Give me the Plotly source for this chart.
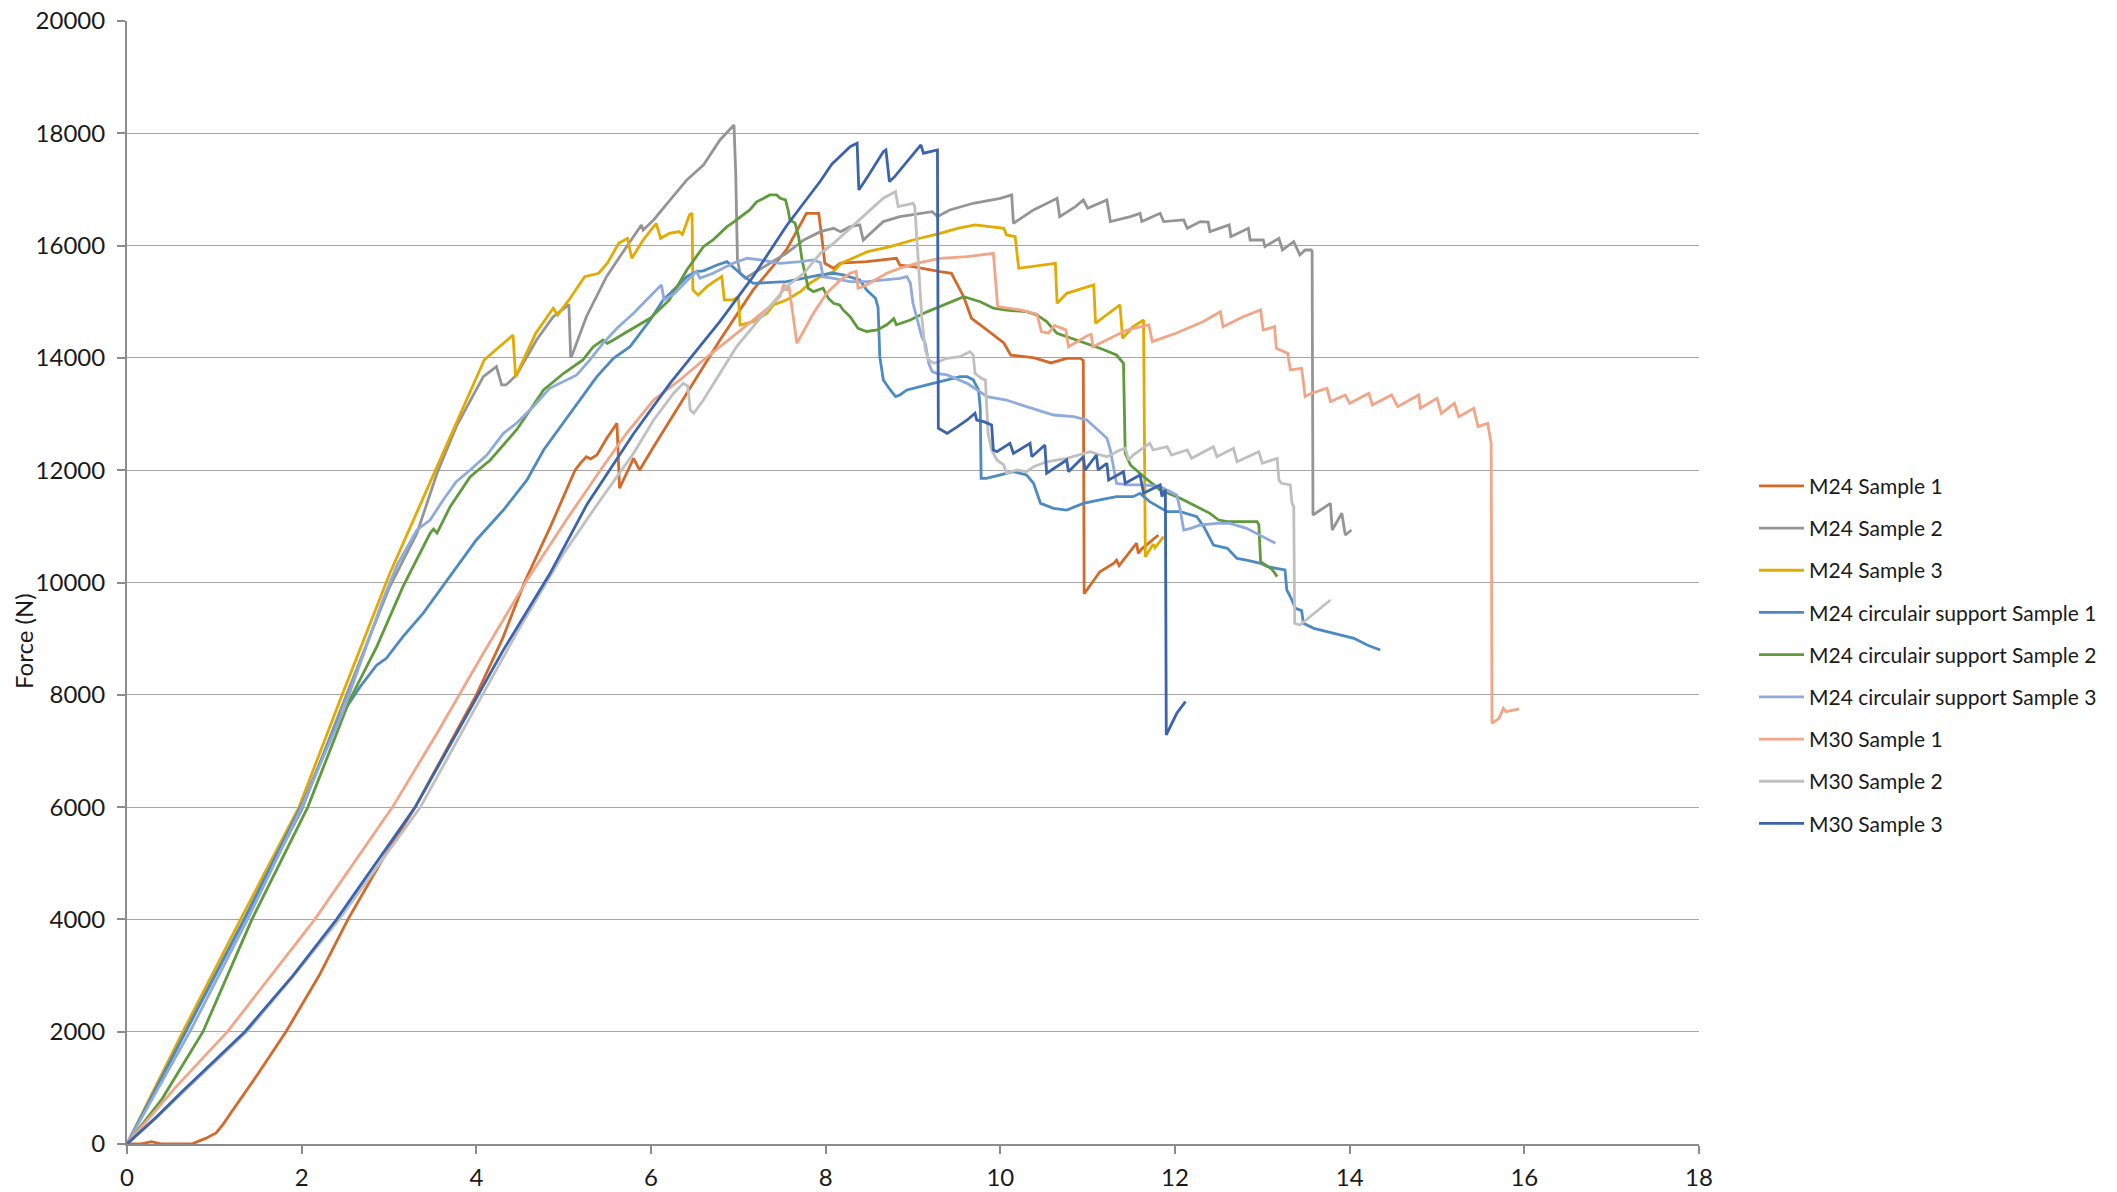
import plotly.graph_objects as go

# Displacement (mm) / force (N) curves per bolt sample
m24_s1_x = [0, 0.15, 0.28, 0.32, 0.40, 0.74, 0.90, 1.02, 1.10, 1.20, 1.50, 1.82, 2.20, 2.53, 2.90, 3.30, 3.65, 4.00, 4.30, 4.55, 4.85, 5.13, 5.19, 5.26, 5.31, 5.38, 5.49, 5.61, 5.64, 5.72, 5.80, 5.87, 6.03, 6.41, 6.79, 7.17, 7.55, 7.78, 7.92, 7.96, 7.99, 8.09, 8.17, 8.47, 8.81, 8.85, 9.00, 9.31, 9.44, 9.58, 9.67, 9.85, 10.04, 10.12, 10.39, 10.58, 10.76, 10.92, 10.95, 10.96, 11.14, 11.30, 11.33, 11.36, 11.56, 11.58, 11.62, 11.81]
m24_s1_y = [0, 0, 40, 30, 0, 0, 100, 196, 350, 580, 1250, 2000, 3000, 4000, 5000, 6000, 7000, 8000, 9000, 10000, 11000, 12000, 12123, 12240, 12200, 12271, 12560, 12835, 11678, 11950, 12212, 12004, 12419, 13369, 14319, 15210, 15922, 16575, 16575, 16100, 15685, 15596, 15690, 15713, 15773, 15650, 15625, 15535, 15507, 15090, 14705, 14496, 14265, 14050, 14000, 13910, 13993, 13993, 13950, 9800, 10192, 10342, 10400, 10300, 10700, 10520, 10600, 10846]

m24_s2_x = [0, 0.66, 1.33, 2.0, 2.45, 3.0, 3.32, 3.55, 3.77, 4.08, 4.23, 4.29, 4.34, 4.46, 4.69, 4.88, 5.06, 5.08, 5.09, 5.26, 5.49, 5.72, 5.89, 5.91, 6.03, 6.22, 6.41, 6.60, 6.79, 6.95, 6.97, 6.99, 7.02, 7.08, 7.17, 7.36, 7.55, 7.75, 7.94, 8.09, 8.17, 8.28, 8.39, 8.43, 8.66, 8.85, 9.22, 9.28, 9.42, 9.69, 10.0, 10.13, 10.15, 10.38, 10.65, 10.68, 10.86, 10.95, 11.0, 11.22, 11.26, 11.49, 11.60, 11.62, 11.83, 11.87, 12.10, 12.14, 12.29, 12.38, 12.40, 12.62, 12.64, 12.84, 12.86, 13.01, 13.03, 13.19, 13.23, 13.36, 13.43, 13.49, 13.56, 13.57, 13.58, 13.78, 13.80, 13.91, 13.95, 14.02]
m24_s2_y = [0, 1950, 3950, 5950, 7750, 9900, 10876, 11945, 12775, 13666, 13844, 13518, 13518, 13696, 14319, 14734, 14950, 14022, 14022, 14734, 15447, 15981, 16368, 16279, 16457, 16813, 17169, 17436, 17881, 18148, 17300, 15744, 15507, 15418, 15507, 15685, 15863, 16100, 16248, 16308, 16248, 16337, 16368, 16100, 16427, 16516, 16605, 16516, 16635, 16754, 16843, 16902, 16397, 16635, 16843, 16516, 16695, 16813, 16665, 16813, 16427, 16516, 16575, 16427, 16575, 16427, 16457, 16308, 16427, 16420, 16248, 16368, 16159, 16308, 16100, 16100, 15981, 16130, 15922, 16070, 15833, 15922, 15922, 15900, 11202, 11410, 10935, 11232, 10846, 10935]

m24_s3_x = [0, 0.64, 1.30, 1.97, 2.44, 3.01, 3.55, 3.85, 4.09, 4.22, 4.35, 4.42, 4.45, 4.68, 4.88, 4.93, 5.06, 5.24, 5.40, 5.50, 5.63, 5.73, 5.78, 5.91, 6.06, 6.11, 6.21, 6.32, 6.36, 6.44, 6.47, 6.48, 6.54, 6.64, 6.72, 6.81, 6.84, 6.94, 7.0, 7.02, 7.17, 7.33, 7.40, 7.55, 7.71, 7.82, 7.94, 8.09, 8.18, 8.48, 8.74, 9.0, 9.31, 9.51, 9.71, 9.92, 10.04, 10.07, 10.17, 10.21, 10.39, 10.63, 10.65, 10.76, 11.07, 11.09, 11.24, 11.37, 11.40, 11.52, 11.64, 11.66, 11.75, 11.77, 11.87]
m24_s3_y = [0, 2000, 4000, 6000, 7908, 10164, 12063, 13131, 13963, 14141, 14319, 14408, 13666, 14438, 14883, 14764, 15032, 15447, 15507, 15685, 16041, 16130, 15774, 16100, 16397, 16130, 16219, 16250, 16200, 16546, 16575, 15210, 15120, 15269, 15360, 15447, 15032, 15032, 15090, 14586, 14645, 14795, 14943, 15032, 15180, 15330, 15447, 15540, 15685, 15892, 15981, 16100, 16219, 16308, 16368, 16338, 16308, 16189, 16159, 15596, 15630, 15685, 14973, 15150, 15299, 14616, 14795, 14943, 14349, 14556, 14675, 10460, 10680, 10620, 10816]

m24_cs1_x = [0, 0.67, 1.34, 2.02, 2.44, 2.67, 2.86, 2.97, 3.16, 3.39, 3.70, 4.0, 4.31, 4.58, 4.77, 5.07, 5.38, 5.57, 5.76, 5.99, 6.14, 6.22, 6.41, 6.52, 6.60, 6.75, 6.87, 7.02, 7.17, 7.55, 7.94, 8.09, 8.20, 8.39, 8.47, 8.57, 8.60, 8.62, 8.66, 8.74, 8.80, 8.85, 8.93, 9.16, 9.39, 9.54, 9.62, 9.69, 9.75, 9.77, 9.78, 9.84, 10.0, 10.15, 10.30, 10.38, 10.46, 10.61, 10.76, 10.95, 11.14, 11.33, 11.52, 11.60, 11.71, 11.81, 11.91, 12.06, 12.25, 12.33, 12.44, 12.60, 12.71, 12.82, 12.98, 13.06, 13.26, 13.28, 13.32, 13.38, 13.45, 13.47, 13.59, 13.74, 13.89, 14.05, 14.20, 14.35]
m24_cs1_y = [0, 2000, 4000, 6100, 7610, 8145, 8531, 8650, 9035, 9451, 10104, 10757, 11291, 11826, 12360, 13000, 13666, 13993, 14200, 14675, 15032, 15150, 15447, 15536, 15550, 15650, 15714, 15507, 15329, 15358, 15477, 15507, 15480, 15388, 15210, 15062, 14900, 14022, 13607, 13429, 13310, 13340, 13429, 13518, 13607, 13666, 13666, 13610, 13429, 13100, 11856, 11856, 11915, 11974, 11915, 11767, 11410, 11321, 11290, 11410, 11470, 11529, 11529, 11588, 11440, 11350, 11261, 11261, 11172, 10994, 10668, 10609, 10430, 10400, 10342, 10280, 10223, 9867, 9750, 9540, 9500, 9273, 9184, 9124, 9065, 9006, 8887, 8798]

m24_cs2_x = [0, 0.4, 0.87, 1.43, 2.07, 2.55, 2.86, 3.16, 3.47, 3.51, 3.55, 3.70, 3.93, 4.16, 4.46, 4.77, 5.0, 5.22, 5.34, 5.45, 5.50, 5.55, 5.76, 5.99, 6.21, 6.41, 6.60, 6.71, 6.87, 6.93, 7.13, 7.21, 7.29, 7.36, 7.44, 7.48, 7.54, 7.57, 7.59, 7.65, 7.69, 7.73, 7.78, 7.80, 7.86, 7.97, 8.03, 8.09, 8.16, 8.20, 8.28, 8.37, 8.47, 8.59, 8.70, 8.78, 8.81, 8.97, 9.16, 9.35, 9.58, 9.77, 9.92, 10.07, 10.30, 10.42, 10.53, 10.65, 10.76, 10.92, 11.14, 11.33, 11.41, 11.43, 11.49, 11.64, 11.83, 12.06, 12.25, 12.40, 12.50, 12.60, 12.94, 12.96, 12.98, 13.06, 13.10, 13.13, 13.17]
m24_cs2_y = [0, 800, 2000, 4000, 6000, 7908, 8857, 9926, 10876, 10950, 10880, 11350, 11885, 12182, 12716, 13429, 13726, 13963, 14200, 14319, 14260, 14300, 14497, 14705, 15032, 15566, 15981, 16100, 16338, 16400, 16635, 16780, 16843, 16902, 16902, 16843, 16813, 16635, 16457, 16400, 16160, 15744, 15388, 15240, 15180, 15240, 15062, 14973, 14943, 14854, 14735, 14527, 14470, 14497, 14590, 14700, 14590, 14675, 14820, 14943, 15090, 15000, 14885, 14850, 14823, 14765, 14646, 14438, 14380, 14290, 14171, 14052, 13904, 12300, 12093, 11885, 11648, 11500, 11350, 11232, 11113, 11084, 11084, 11030, 10371, 10282, 10250, 10193, 10104]

m24_cs3_x = [0, 0.72, 1.38, 2.0, 2.48, 2.93, 3.09, 3.32, 3.47, 3.62, 3.77, 3.93, 4.12, 4.31, 4.46, 4.65, 4.84, 5.0, 5.15, 5.30, 5.45, 5.61, 5.80, 6.06, 6.12, 6.15, 6.27, 6.42, 6.52, 6.56, 6.71, 6.94, 7.10, 7.25, 7.48, 7.71, 7.86, 7.94, 7.97, 8.09, 8.28, 8.47, 8.62, 8.85, 8.93, 8.97, 9.0, 9.04, 9.10, 9.14, 9.18, 9.22, 9.27, 9.39, 9.62, 9.85, 10.07, 10.30, 10.61, 10.84, 10.99, 11.14, 11.22, 11.26, 11.30, 11.33, 11.45, 11.64, 11.83, 12.02, 12.06, 12.10, 12.18, 12.29, 12.48, 12.63, 12.82, 13.01, 13.15]
m24_cs3_y = [0, 2000, 4000, 6000, 7730, 9690, 10300, 10935, 11113, 11470, 11796, 12004, 12271, 12657, 12835, 13131, 13459, 13577, 13696, 13963, 14260, 14527, 14795, 15210, 15300, 15032, 15150, 15388, 15536, 15420, 15507, 15685, 15774, 15744, 15685, 15714, 15744, 15700, 15447, 15418, 15360, 15360, 15388, 15418, 15447, 15330, 14973, 14735, 14378, 14260, 13904, 13755, 13726, 13696, 13547, 13310, 13250, 13131, 12983, 12953, 12894, 12686, 12570, 12360, 11980, 11767, 11737, 11737, 11707, 11560, 11291, 10935, 10965, 11024, 11053, 11054, 10965, 10816, 10698]

m30_s1_x = [0, 0.55, 1.15, 2.15, 3.04, 3.55, 4.08, 4.58, 5.03, 5.42, 5.72, 6.03, 6.33, 6.60, 6.98, 7.36, 7.48, 7.52, 7.55, 7.58, 7.67, 7.86, 8.01, 8.17, 8.28, 8.35, 8.37, 8.43, 8.70, 8.85, 9.04, 9.31, 9.62, 9.92, 9.97, 10.23, 10.42, 10.47, 10.55, 10.62, 10.75, 10.78, 11.00, 11.04, 11.06, 11.45, 11.70, 11.74, 12.01, 12.32, 12.52, 12.55, 12.78, 12.98, 13.01, 13.14, 13.16, 13.29, 13.32, 13.45, 13.49, 13.56, 13.74, 13.78, 13.95, 14.0, 14.22, 14.26, 14.48, 14.55, 14.79, 14.81, 15.0, 15.05, 15.20, 15.25, 15.42, 15.47, 15.58, 15.62, 15.63, 15.71, 15.76, 15.79, 15.94]
m30_s1_y = [0, 1000, 2000, 4000, 6000, 7314, 8739, 10045, 11113, 12000, 12657, 13250, 13607, 13963, 14438, 14913, 15100, 15320, 15200, 15280, 14260, 14795, 15150, 15388, 15507, 15540, 15240, 15269, 15507, 15596, 15685, 15774, 15803, 15863, 14913, 14854, 14780, 14470, 14440, 14580, 14500, 14200, 14400, 14420, 14200, 14497, 14586, 14290, 14438, 14645, 14823, 14556, 14734, 14853, 14497, 14556, 14171, 14082, 13785, 13814, 13310, 13369, 13459, 13221, 13340, 13191, 13369, 13161, 13340, 13131, 13340, 13103, 13280, 13012, 13191, 12953, 13103, 12776, 12835, 12479, 7492, 7582, 7760, 7700, 7750]

m30_s2_x = [0, 0.33, 0.66, 1.0, 1.37, 1.9, 2.43, 3.36, 3.89, 4.46, 5.0, 5.42, 5.80, 6.03, 6.26, 6.37, 6.42, 6.45, 6.49, 6.60, 6.79, 6.98, 7.17, 7.36, 7.55, 7.75, 7.94, 8.09, 8.47, 8.66, 8.80, 8.83, 9.0, 9.02, 9.06, 9.10, 9.14, 9.18, 9.24, 9.39, 9.54, 9.65, 9.69, 9.71, 9.79, 9.83, 9.84, 9.86, 9.90, 9.96, 10.04, 10.07, 10.19, 10.30, 10.38, 10.53, 10.76, 10.95, 11.03, 11.14, 11.22, 11.37, 11.43, 11.47, 11.52, 11.71, 11.75, 11.91, 11.96, 12.14, 12.19, 12.44, 12.48, 12.67, 12.71, 12.96, 13.0, 13.17, 13.19, 13.22, 13.32, 13.34, 13.36, 13.37, 13.43, 13.78]
m30_s2_y = [0, 460, 950, 1460, 2000, 2980, 4000, 6000, 7492, 9095, 10519, 11470, 12300, 12894, 13370, 13547, 13500, 13072, 13014, 13250, 13725, 14200, 14556, 14913, 15269, 15507, 15863, 16041, 16575, 16843, 16960, 16694, 16754, 16700, 15744, 14735, 14141, 13963, 13904, 13993, 14022, 14111, 14050, 13726, 13630, 13607, 13250, 12657, 12360, 12182, 12093, 11945, 12004, 11974, 12063, 12150, 12212, 12300, 12330, 12271, 12241, 12360, 12389, 12182, 12271, 12478, 12360, 12418, 12271, 12360, 12212, 12418, 12241, 12389, 12152, 12330, 12123, 12212, 11826, 11767, 11737, 11410, 11350, 9273, 9243, 9688]

m30_s3_x = [0, 0.33, 0.65, 1.0, 1.35, 1.9, 2.40, 3.30, 3.77, 4.31, 4.84, 5.27, 5.80, 6.22, 6.79, 7.17, 7.55, 7.94, 8.07, 8.28, 8.36, 8.38, 8.48, 8.66, 8.69, 8.73, 8.79, 9.0, 9.09, 9.12, 9.20, 9.28, 9.29, 9.39, 9.51, 9.62, 9.71, 9.73, 9.81, 9.90, 9.92, 9.96, 10.11, 10.15, 10.34, 10.36, 10.51, 10.53, 10.76, 10.78, 10.95, 10.97, 11.10, 11.12, 11.22, 11.24, 11.41, 11.43, 11.60, 11.64, 11.83, 11.85, 11.89, 11.90, 12.02, 12.12]
m30_s3_y = [0, 470, 960, 1480, 2000, 3000, 4000, 6000, 7300, 8800, 10150, 11400, 12650, 13550, 14650, 15450, 16350, 17150, 17450, 17762, 17822, 16991, 17228, 17673, 17703, 17140, 17228, 17614, 17792, 17645, 17673, 17703, 12746, 12657, 12775, 12894, 13014, 12894, 12864, 12805, 12360, 12330, 12478, 12300, 12478, 12241, 12449, 11945, 12182, 11974, 12241, 12000, 12271, 12004, 12123, 11826, 11974, 11767, 11915, 11589, 11737, 11530, 11650, 7285, 7671, 7878]

series_names = [
    "M24 Sample 1", "M24 Sample 2", "M24 Sample 3",
    "M24 circulair support Sample 1", "M24 circulair support Sample 2",
    "M24 circulair support Sample 3",
    "M30 Sample 1", "M30 Sample 2", "M30 Sample 3",
]
series_colors = ["#D4692A", "#959595", "#E3AA00", "#4C8AC2", "#5F9B3B",
                 "#8FAADC", "#F2A587", "#C0C0C0", "#3B63AE"]
series_data = [
    (m24_s1_x, m24_s1_y), (m24_s2_x, m24_s2_y), (m24_s3_x, m24_s3_y),
    (m24_cs1_x, m24_cs1_y), (m24_cs2_x, m24_cs2_y), (m24_cs3_x, m24_cs3_y),
    (m30_s1_x, m30_s1_y), (m30_s2_x, m30_s2_y), (m30_s3_x, m30_s3_y),
]

fig = go.Figure()
for i, (name, color, (xs, ys)) in enumerate(zip(series_names, series_colors, series_data)):
    fig.add_trace(go.Scatter(
        x=xs, y=ys, name=name, mode="lines", legendgroup=f"g{i}",
        line=dict(color=color, width=2.8),
    ))

axis_grey = "#8C8C8C"
tick_font = dict(family="Lato, sans-serif", size=24, color="#1A1A1A")

fig.update_layout(
    width=2117, height=1192, autosize=False,
    margin=dict(l=127, r=418, t=21, b=48),
    paper_bgcolor="white", plot_bgcolor="white",
    showlegend=True,
    legend=dict(
        x=1.035, y=0.604, xanchor="left", yanchor="top",
        font=dict(family="Lato, sans-serif", size=21, color="#1A1A1A"),
        tracegroupgap=11.9, itemwidth=45, bgcolor="rgba(0,0,0,0)",
    ),
    xaxis=dict(
        range=[0, 18], dtick=2, tick0=0, showgrid=False, zeroline=False,
        showline=True, linecolor=axis_grey, linewidth=2, automargin=False,
        ticks="outside", ticklen=8, tickwidth=1.5, tickcolor=axis_grey,
        tickfont=tick_font, ticklabelstandoff=3,
    ),
    yaxis=dict(
        range=[0, 20000], dtick=2000, tick0=0, tickformat="d",
        showgrid=True, gridcolor="#A6A6A6", gridwidth=1.3, zeroline=False,
        showline=True, linecolor=axis_grey, linewidth=2, automargin=False,
        ticks="outside", ticklen=8, tickwidth=1.5, tickcolor=axis_grey,
        tickfont=tick_font, ticklabelstandoff=7,
    ),
    annotations=[dict(
        text="Force (N)", textangle=-90, showarrow=False,
        xref="paper", yref="paper", x=-0.0655, y=0.448,
        xanchor="center", yanchor="middle",
        font=dict(family="Lato, sans-serif", size=24, color="#1A1A1A"),
    )],
)

fig.write_html("out.html")
